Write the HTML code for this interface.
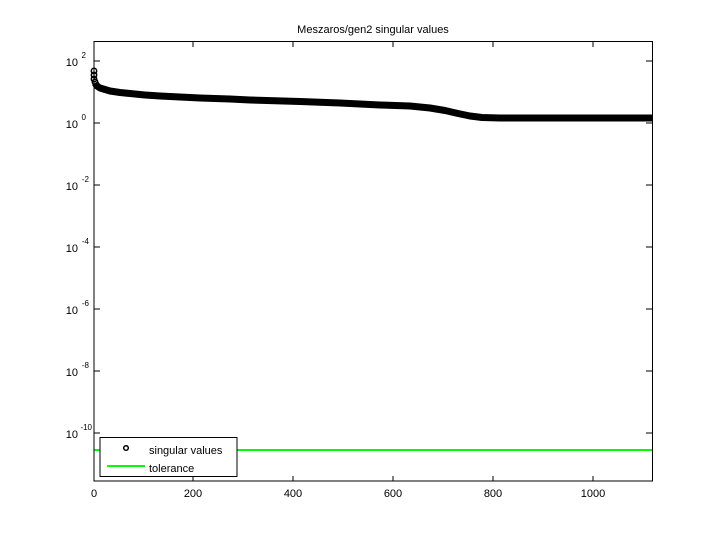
<!DOCTYPE html>
<html><head><style>body{margin:0;background:#fff}svg{display:block;font-family:"Liberation Sans",sans-serif}</style></head>
<body>
<svg width="720" height="540" viewBox="0 0 720 540">
<rect width="720" height="540" fill="#fff"/>
<text x="373" y="33" font-size="11" text-anchor="middle">Meszaros/gen2 singular values</text>
<line x1="94" y1="450" x2="652" y2="450" stroke="#00ff00" stroke-width="2"/>
<polyline fill="none" stroke="#000" stroke-width="7" stroke-linejoin="round" points="95,83 97,86 100,88 105,89.5 110,91 120,92.5 130,93.5 145,95 160,96 180,97 200,98 230,99 250,100 300,101.5 340,103 380,105 410,106 430,108 445,110.5 458,113.5 470,116 482,117.5 500,118 560,118 652,118"/>
<g fill="none" stroke="#000" stroke-width="1.5">
<circle cx="94" cy="71" r="2.7"/><circle cx="94" cy="75" r="2.7"/><circle cx="94" cy="79" r="2.7"/><circle cx="95" cy="82" r="2.7"/>
</g>
<rect x="94" y="41.5" width="558.5" height="439.5" fill="none" stroke="#000" stroke-width="1"/>
<g stroke="#000" stroke-width="1">
<line x1="94" y1="61" x2="100" y2="61"/><line x1="646" y1="61" x2="652" y2="61"/>
<line x1="94" y1="123" x2="100" y2="123"/><line x1="646" y1="123" x2="652" y2="123"/>
<line x1="94" y1="185" x2="100" y2="185"/><line x1="646" y1="185" x2="652" y2="185"/>
<line x1="94" y1="247" x2="100" y2="247"/><line x1="646" y1="247" x2="652" y2="247"/>
<line x1="94" y1="309" x2="100" y2="309"/><line x1="646" y1="309" x2="652" y2="309"/>
<line x1="94" y1="371" x2="100" y2="371"/><line x1="646" y1="371" x2="652" y2="371"/>
<line x1="94" y1="433" x2="100" y2="433"/><line x1="646" y1="433" x2="652" y2="433"/>
<line x1="193" y1="481" x2="193" y2="476"/><line x1="193" y1="42" x2="193" y2="47"/>
<line x1="293" y1="481" x2="293" y2="476"/><line x1="293" y1="42" x2="293" y2="47"/>
<line x1="393" y1="481" x2="393" y2="476"/><line x1="393" y1="42" x2="393" y2="47"/>
<line x1="493" y1="481" x2="493" y2="476"/><line x1="493" y1="42" x2="493" y2="47"/>
<line x1="593" y1="481" x2="593" y2="476"/><line x1="593" y1="42" x2="593" y2="47"/>
</g>
<g font-size="11" text-anchor="end">
<text x="78" y="66">10</text><text x="86" y="58" font-size="8">2</text>
<text x="78" y="128">10</text><text x="86" y="120" font-size="8">0</text>
<text x="78" y="190">10</text><text x="89" y="182" font-size="8">-2</text>
<text x="78" y="252">10</text><text x="89" y="244" font-size="8">-4</text>
<text x="78" y="314">10</text><text x="89" y="306" font-size="8">-6</text>
<text x="78" y="376">10</text><text x="89" y="368" font-size="8">-8</text>
<text x="78" y="438">10</text><text x="92" y="430" font-size="8">-10</text>
</g>
<g font-size="11" text-anchor="middle">
<text x="94" y="497">0</text><text x="193" y="497">200</text><text x="293" y="497">400</text>
<text x="393" y="497">600</text><text x="493" y="497">800</text><text x="593" y="497">1000</text>
</g>
<rect x="100" y="437.5" width="137" height="39" fill="#fff" stroke="#000" stroke-width="1"/>
<circle cx="126" cy="448" r="2.3" fill="none" stroke="#000" stroke-width="1.5"/>
<text x="149" y="454" font-size="11">singular values</text>
<line x1="107" y1="466" x2="145" y2="466" stroke="#00ff00" stroke-width="2"/>
<text x="149" y="472" font-size="11">tolerance</text>
</svg>
</body></html>
